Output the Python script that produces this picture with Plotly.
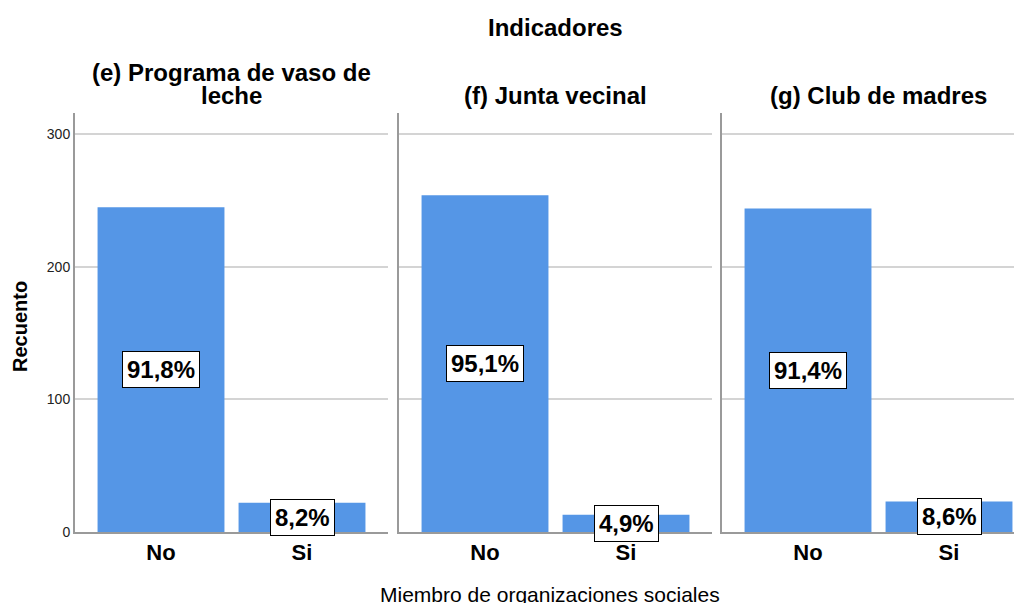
import plotly.graph_objects as go

# Data
panels = ["(e) Programa de vaso de<br>leche", "(f) Junta vecinal", "(g) Club de madres"]
categories = ["No", "Si"]
vaso_leche = [245, 22]
junta_vecinal = [254, 13]
club_madres = [244, 23]
series = [vaso_leche, junta_vecinal, club_madres]

BAR_COLOR = "rgb(85, 150, 230)"
FONT = "Liberation Sans, Arial, sans-serif"

# the page body adds an 8px margin, so the figure is shifted back by that much
W, H = 1014, 595
L, R, T, B = 67, 0, 105, 71
plot_w = W - L - R

# panel pixel extents (relative to plot area left)
panel_px = [(0, 313), (324, 637), (647, 947)]
px_per_cat = 141.0
x_start = -0.61

fig = go.Figure()

for i, vals in enumerate(series):
    n = "" if i == 0 else str(i + 1)
    fig.add_trace(
        go.Bar(
            x=categories,
            y=vals,
            width=0.9,
            marker=dict(color=BAR_COLOR, line=dict(width=0)),
            xaxis="x" + n,
            yaxis="y" + n,
            showlegend=False,
            hoverinfo="skip",
        )
    )
    d0, d1 = panel_px[i]
    x_end = x_start + (d1 - d0) / px_per_cat
    fig.update_layout(
        {
            "xaxis" + n: dict(
                domain=[d0 / plot_w, d1 / plot_w],
                range=[x_start, x_end],
                type="category",
                showline=True,
                linecolor="#9a9a9a",
                linewidth=2,
                showgrid=False,
                ticks="",
                tickfont=dict(size=22, color="black", family=FONT, weight="bold"),
                anchor="y" + n,
            ),
            "yaxis" + n: dict(
                range=[0, 316],
                showline=True,
                linecolor="#9a9a9a",
                linewidth=2,
                showgrid=True,
                gridcolor="#d4d4d4",
                gridwidth=2,
                tickvals=[0, 100, 200, 300],
                showticklabels=(i == 0),
                ticks="",
                tickfont=dict(size=14, color="#222", family=FONT),
                zeroline=False,
                anchor="x" + n,
            ),
        }
    )

    # percentage labels in the middle of each bar
    total = sum(vals)
    for cat, v in zip(categories, vals):
        pct = f"{v / total * 100:.1f}%".replace(".", ",")
        fig.add_annotation(
            x=cat,
            y=v / 2,
            xref="x" + n,
            yref="y" + n,
            text=pct,
            showarrow=False,
            font=dict(size=24, color="black", family=FONT, weight="bold"),
            bgcolor="white",
            bordercolor="black",
            borderwidth=1,
            borderpad=4,
        )

    # panel title, centred on the full (uncropped) panel, tight line spacing
    center = (d0 + 313 / 2) / plot_w
    lines = panels[i].split("<br>")
    for k, line in enumerate(lines):
        fig.add_annotation(
            x=center,
            y=1,
            xref="paper",
            yref="paper",
            xanchor="center",
            yanchor="middle",
            yshift=18 + 23 * (len(lines) - 1 - k),
            text=f"<b>{line}</b>",
            showarrow=False,
            font=dict(size=24, color="black", family=FONT),
        )

# overall title
fig.add_annotation(
    x=(555 - 75) / plot_w,
    y=1,
    xref="paper",
    yref="paper",
    xanchor="center",
    yanchor="middle",
    yshift=113 - 27,
    text="<b>Indicadores</b>",
    showarrow=False,
    font=dict(size=24, color="black", family=FONT),
)

# axis titles
fig.add_annotation(
    x=(550 - 75) / plot_w,
    y=0,
    xref="paper",
    yref="paper",
    xanchor="center",
    yanchor="middle",
    yshift=-(594 - 532),
    text="Miembro de organizaciones sociales",
    showarrow=False,
    font=dict(size=21, color="black", family=FONT),
)
fig.add_annotation(
    x=0,
    y=(532 - 327) / (532 - 113),
    xref="paper",
    yref="paper",
    xanchor="center",
    yanchor="middle",
    xshift=-55,
    text="<b>Recuento</b>",
    textangle=-90,
    showarrow=False,
    font=dict(size=20, color="black", family=FONT),
)

fig.update_layout(
    width=W,
    height=H,
    margin=dict(l=L, r=R, t=T, b=B, pad=0),
    plot_bgcolor="white",
    paper_bgcolor="white",
    bargap=0.1,
    font=dict(family=FONT, color="black"),
)

fig.write_html("out.html", config={"displayModeBar": False})
